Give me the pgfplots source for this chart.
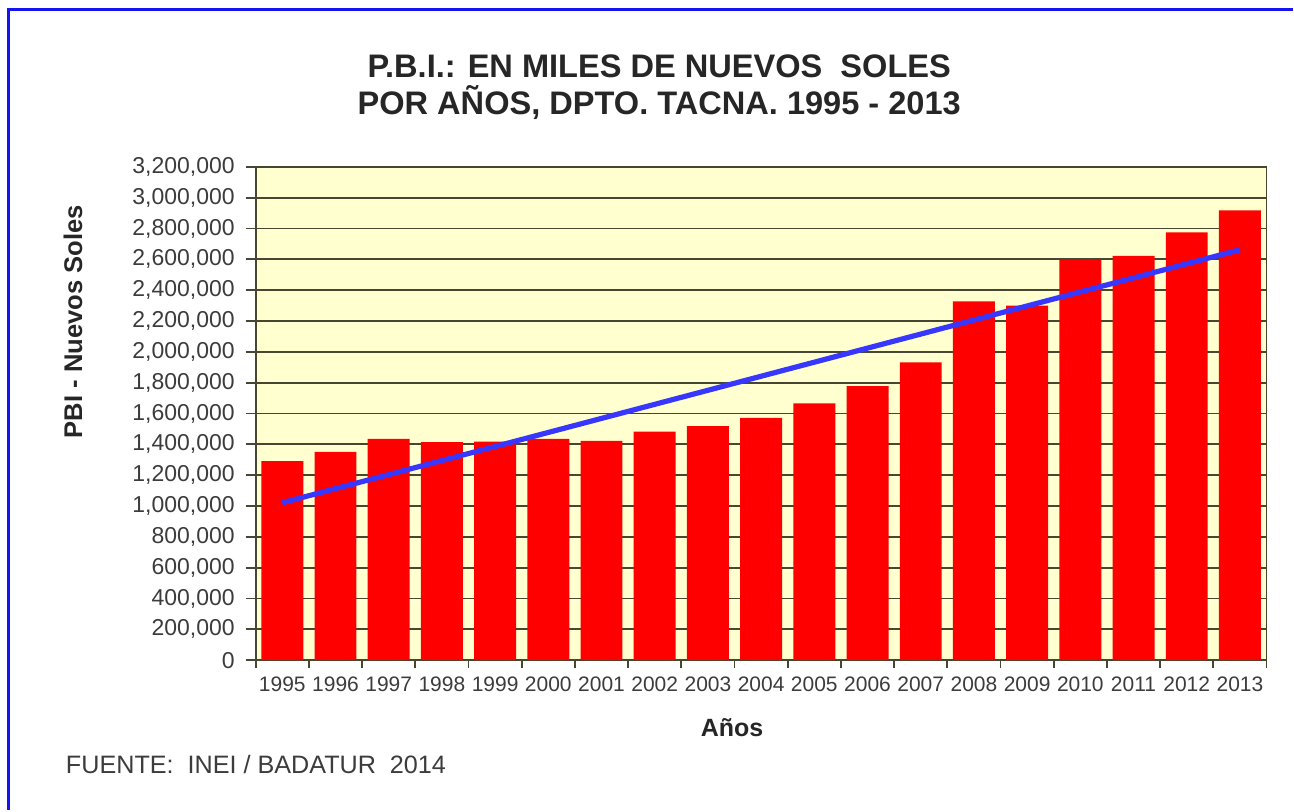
\documentclass[border=0pt]{standalone}
\usepackage{fontspec}
\setmainfont{Liberation Sans}
\usepackage{pgfplots}
\pgfplotsset{compat=1.18}

\definecolor{plotbg}{RGB}{255,255,208}
\definecolor{gridc}{RGB}{70,70,50}
\definecolor{barred}{RGB}{255,0,0}
\definecolor{trend}{RGB}{55,55,255}
\definecolor{ticktxt}{RGB}{60,60,60}
\definecolor{frameblue}{RGB}{20,20,240}

\begin{document}
\begin{tikzpicture}[x=0.5pt,y=0.5pt]
% page, 1294 x 811 px at 0.5pt per px
\fill[white] (0,0) rectangle (1294,811);
\draw[frameblue, line width=1.5pt] (9,0) -- (9,801) -- (1294,801);

\begin{axis}[
  at={(128pt,75pt)}, anchor=south west,
  scale only axis,
  width=506pt, height=247pt,
  xmin=-0.5, xmax=18.5,
  ymin=0, ymax=3200000,
  axis background/.style={fill=plotbg},
  axis line style={draw=gridc, line width=0.9pt},
  ytick={0,200000,...,3200000},
  scaled y ticks=false,
  ymajorgrids=true,
  grid style={draw=gridc, line width=0.9pt},
  xtick={0,...,18},
  xticklabels={1995,1996,1997,1998,1999,2000,2001,2002,2003,2004,2005,2006,2007,2008,2009,2010,2011,2012,2013},
  minor xtick={-0.5,0.5,...,18.5},
  xtick pos=bottom, ytick pos=left,
  tick align=outside,
  major x tick style={draw=none},
  minor tick length=4pt,
  major tick length=5pt,
  tick style={draw=gridc, line width=0.9pt},
  xticklabel style={font=\fontsize{10.5}{12}\selectfont, text=ticktxt},
  yticklabel style={font=\fontsize{11.5}{13}\selectfont, text=ticktxt, xshift=-2pt,
    /pgf/number format/.cd, fixed, 1000 sep={,}, assume math mode=true},
  clip=false,
]
\addplot[ybar, bar width=21pt, bar shift=0pt, fill=barred, draw=none]
  coordinates {
    (0,1291000) (1,1352000) (2,1436000) (3,1414000) (4,1417000)
    (5,1436000) (6,1423000) (7,1483000) (8,1518000) (9,1572000)
    (10,1665000) (11,1777000) (12,1932000) (13,2328000) (14,2300000)
    (15,2598000) (16,2623000) (17,2774000) (18,2917000)
  };
% linear trend drawn by the source chart
\addplot[sharp plot, draw=trend, line width=2.6pt, mark=none]
  coordinates { (0,1021500) (18,2662000) };
\end{axis}

\node[font=\fontsize{16.3}{19}\selectfont\bfseries, text=black!85] at (660,745)
  {P.B.I.: EN MILES DE NUEVOS\ \ SOLES};
\node[font=\fontsize{16.3}{19}\selectfont\bfseries, text=black!85] at (660,708)
  {POR AÑOS, DPTO. TACNA. 1995 - 2013};
\node[rotate=90, font=\fontsize{12.8}{15}\selectfont\bfseries, text=black!85] at (73,489)
  {PBI - Nuevos Soles};
\node[font=\fontsize{12.5}{15}\selectfont\bfseries, text=black!85] at (733,83) {Años};
\node[anchor=west, font=\fontsize{12.6}{15}\selectfont, text=ticktxt] at (59,46)
  {FUENTE:\ \ INEI / BADATUR\ \ 2014};
\end{tikzpicture}
\end{document}
